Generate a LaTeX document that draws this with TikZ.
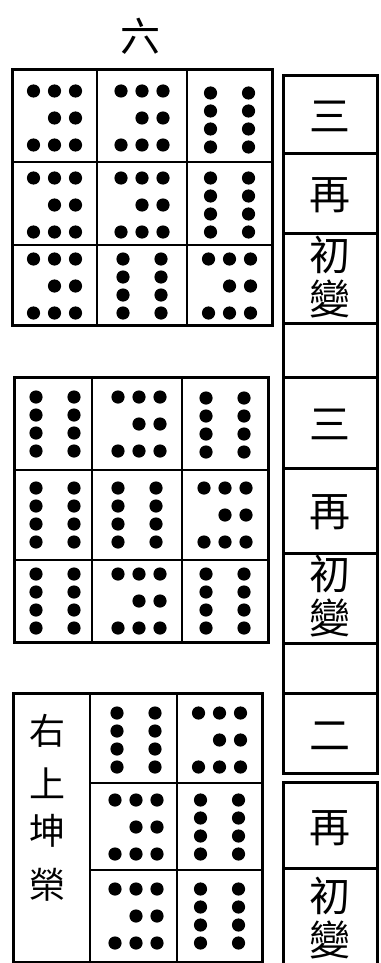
\documentclass[tikz,border=0pt]{standalone}
\usepackage{fontspec}
\newfontfamily\cjk{Noto Sans CJK TC}
\tikzset{
  outerline/.style={line width=3pt},
  innerline/.style={line width=2.4pt},
  dotfill/.style={fill=black},
  bigchar/.style={font=\cjk\fontsize{40}{40}\selectfont, inner sep=0pt},
  colchar/.style={font=\cjk\fontsize{41}{41}\selectfont, inner sep=0pt},
  labchar/.style={font=\cjk\fontsize{36}{36}\selectfont, inner sep=0pt},
}
\newcommand\mypatA[2]{%
  \foreach \dx/\dy in {-21/-27,0/-27,21/-27,0/0,21/0,-21/27,0/27,21/27}
    \fill[dotfill] (#1+\dx,#2+\dy) circle[radius=6.6pt];}
\newcommand\mypatB[2]{%
  \foreach \dx in {-19,19}
    \foreach \dy in {-27,-9,9,27}
      \fill[dotfill] (#1+\dx,#2+\dy) circle[radius=6.6pt];}
\begin{document}
\begin{tikzpicture}[x=1pt,y=-1pt]
\useasboundingbox (0,0) rectangle (380,963);
% title
\node[bigchar] (liu) at (140,36) {六};
% ---------- grid 1 ----------
\draw[outerline] (12,70) rectangle (272,325);
\draw[innerline] (97,70) -- (97,325) (187,70) -- (187,325)
  (12,162) -- (272,162) (12,245) -- (272,245);
\mypatA{54.5}{118}\mypatA{142}{118}\mypatB{229.5}{120}
\mypatA{54.5}{205}\mypatA{142}{205}\mypatB{229.5}{205}
\mypatA{54.5}{286}\mypatB{142}{286}\mypatA{229.5}{286}
% ---------- grid 2 ----------
\draw[outerline] (14,377) rectangle (268,642);
\draw[innerline] (92,377) -- (92,642) (182,377) -- (182,642)
  (14,470) -- (268,470) (14,560) -- (268,560);
\mypatB{55}{424}\mypatA{139}{424}\mypatB{225}{425}
\mypatB{55}{515}\mypatB{137}{515}\mypatA{225}{515}
\mypatB{55}{601}\mypatA{139}{601}\mypatB{225}{601}
% ---------- grid 3 ----------
\draw[outerline] (13,693) rectangle (262,962);
\draw[innerline] (90,693) -- (90,962) (177,693) -- (177,962)
  (90,783) -- (262,783) (90,870) -- (262,870);
\mypatB{136}{740}\mypatA{219.5}{740}
\mypatA{136}{827}\mypatB{219.5}{827}
\mypatA{136}{916}\mypatB{219.5}{916}
\node[labchar] (you) at (47,731) {右};
\node[labchar] (shang) at (47,783) {上};
\node[labchar] (kun) at (47,831) {坤};
\node[labchar] (rong) at (47,885) {榮};
% ---------- right column ----------
\foreach \ya/\yb in {76/153,153/233,233/323,323/377,377/468,468/553,553/643,643/693,693/773,782/868}
  \draw[outerline] (283,\ya) rectangle (377,\yb);
\draw[outerline] (283,968) -- (283,868) -- (377,868) -- (377,968);
\node[colchar] (san1) at (330,116) {三};
\node[colchar] (zai1) at (330,195) {再};
\node[colchar] (chu1) at (330,255) {初};
\node[colchar] (bian1) at (330,299) {變};
\node[colchar] (san2) at (330,424) {三};
\node[colchar] (zai2) at (330,512) {再};
\node[colchar] (chu2) at (330,574) {初};
\node[colchar] (bian2) at (330,618) {變};
\node[colchar] (er3) at (330,736) {二};
\node[colchar] (zai3) at (330,828) {再};
\node[colchar] (chu3) at (330,896) {初};
\node[colchar] (bian3) at (330,940) {變};
\end{tikzpicture}
\end{document}
